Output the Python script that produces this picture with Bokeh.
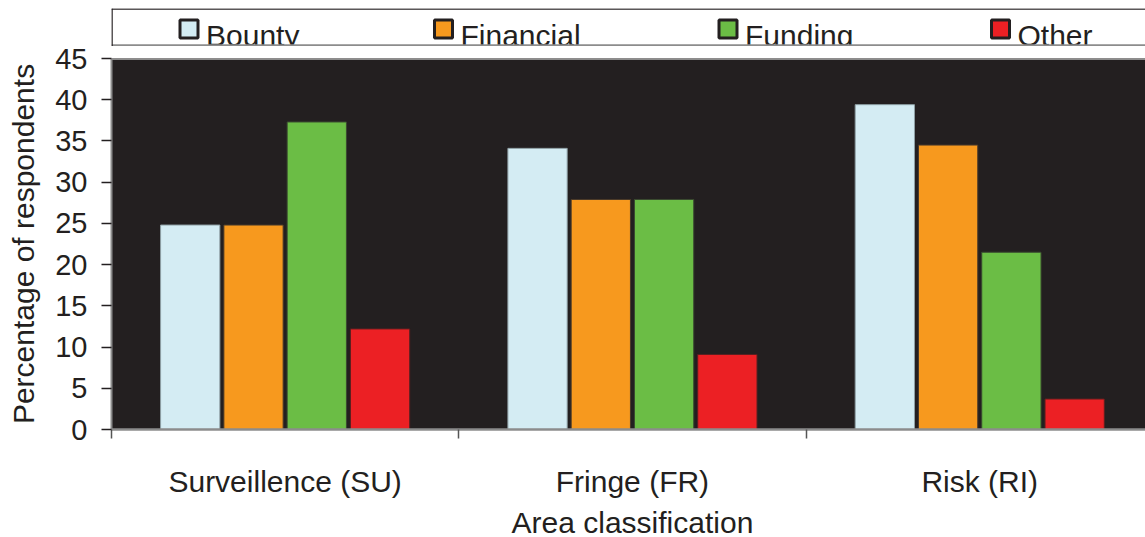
from bokeh.plotting import figure
from bokeh.layouts import column
from bokeh.models import Range1d, FixedTicker, Span, ColumnDataSource
from bokeh.core.properties import value
from bokeh.embed import file_html
from bokeh.resources import INLINE
import numpy as np

# ---- data ----
categories = ["Surveillence (SU)", "Fringe (FR)", "Risk (RI)"]
series_names = ["Bounty", "Financial", "Funding", "Other"]
bounty = [24.8, 34.1, 39.4]
financial = [24.8, 27.9, 34.5]
funding = [37.3, 27.9, 21.5]
other = [12.2, 9.1, 3.7]
y_ticks = [0, 5, 10, 15, 20, 25, 30, 35, 40, 45]
x_title = "Area classification"
y_title = "Percentage of respondents"

# ---- style / layout ----
FONT = "Liberation Sans"
INK = "#231f20"
fills = ["#d4ecf3", "#f7991e", "#6bbd45", "#ec2024"]
edges = ["#8fa0a5", "#4a3a2a", "#3a4a30", "#5a2020"]
BG = "#231f20"
W = 1145
LEFT = 111
CAT_PX = 347.3          # pixel width of one category slot
FRAME_W = W - LEFT
FRAME_H = 372
LEG_H = 46
MAIN_H = 454
TITLE_H = 537 - LEG_H - MAIN_H
TOP = 12
YMAX = 45
BASE_SHIFT = 11          # renderer places alphabetic baseline this much lower

series = [bounty, financial, funding, other]

# ---- main chart ----
ncat = len(categories)
x_end = FRAME_W / CAT_PX
p = figure(width=W, height=MAIN_H, output_backend="svg", toolbar_location=None,
           x_range=Range1d(0, x_end), y_range=Range1d(0, YMAX), title=None,
           min_border_left=LEFT, min_border_right=0, min_border_top=TOP,
           min_border_bottom=MAIN_H - TOP - FRAME_H)
p.background_fill_color = BG
p.border_fill_color = "white"
p.outline_line_color = None
p.grid.visible = False

pitch = 0.1822
bw = 0.1707
centers = np.arange(ncat) + 0.5
for i, (name, vals) in enumerate(zip(series_names, series)):
    xs = centers + (i - 1.5) * pitch
    src = ColumnDataSource(dict(x=xs, top=vals))
    p.vbar(x="x", top="top", width=bw, bottom=0, source=src,
           fill_color=fills[i], line_color=edges[i], line_width=1)

# y axis
p.yaxis.ticker = FixedTicker(ticks=y_ticks, minor_ticks=[])
p.yaxis.major_label_text_font = FONT
p.yaxis.major_label_text_font_size = "29px"
p.yaxis.major_label_text_color = INK
p.yaxis.major_tick_out = 10
p.yaxis.major_tick_in = 0
p.yaxis.major_tick_line_color = INK
p.yaxis.major_tick_line_width = 1.5
p.yaxis.major_label_standoff = 14
p.yaxis.axis_line_color = "#8c8c8c"
p.yaxis.axis_line_width = 2
p.yaxis.axis_label = y_title
p.yaxis.axis_label_text_font = FONT
p.yaxis.axis_label_text_font_size = "30px"
p.yaxis.axis_label_text_font_style = "normal"
p.yaxis.axis_label_text_color = INK
p.yaxis.axis_label_standoff = 12

# x axis
p.xaxis.ticker = FixedTicker(ticks=list(centers), minor_ticks=list(range(ncat + 1)))
p.xaxis.major_label_overrides = {float(c): cat for c, cat in zip(centers, categories)}
p.xaxis.major_tick_line_color = None
p.xaxis.major_tick_out = 0
p.xaxis.major_tick_in = 0
p.xaxis.minor_tick_out = 9
p.xaxis.minor_tick_in = 0
p.xaxis.minor_tick_line_color = "#555555"
p.xaxis.minor_tick_line_width = 1.5
p.xaxis.axis_line_color = "#8c8c8c"
p.xaxis.axis_line_width = 2.5
p.xaxis.major_label_text_font = FONT
p.xaxis.major_label_text_font_size = "30px"
p.xaxis.major_label_text_color = INK
p.xaxis.major_label_standoff = 26

p.add_layout(Span(location=YMAX, dimension="width", line_color="#8c8c8c", line_width=3))

# ---- x-axis title strip ----
tfig = figure(width=W, height=TITLE_H, output_backend="svg", toolbar_location=None,
              x_range=p.x_range, y_range=Range1d(TITLE_H, 0), title=None,
              min_border_left=LEFT, min_border_right=0, min_border_top=0,
              min_border_bottom=0, x_axis_type=None, y_axis_type=None)
tfig.outline_line_color = None
tfig.grid.visible = False
tfig.background_fill_color = "white"
tfig.border_fill_color = "white"
tfig.text(x=[ncat / 2], y=[TITLE_H - 4 - BASE_SHIFT], text=[x_title],
          text_font=value(FONT), text_font_size="30px", text_color=INK,
          text_baseline="alphabetic", text_align="center")

# ---- legend strip ----
LH = LEG_H - 8
leg = figure(width=W, height=LEG_H, output_backend="svg", toolbar_location=None,
             x_range=Range1d(LEFT, W), y_range=Range1d(LH, 0), title=None,
             min_border_left=LEFT, min_border_right=0, min_border_top=8,
             min_border_bottom=0, x_axis_type=None, y_axis_type=None)
leg.outline_line_color = None
leg.grid.visible = False
leg.background_fill_color = "white"
leg.border_fill_color = "white"

legend_x = [188.5, 443, 727.5, 1000]
leg.scatter(x=legend_x, y=[20.5] * 4, marker="square", size=18,
            fill_color=fills, line_color=INK, line_width=3)
leg.text(x=[lx + 17 for lx in legend_x], y=[LH - BASE_SHIFT] * 4, text=series_names,
         text_font=value(FONT), text_font_size="30px", text_color=INK,
         text_baseline="alphabetic", text_align="left")
leg.add_layout(Span(location=0.5, dimension="width", line_color=INK, line_width=1.5))
leg.add_layout(Span(location=LH - 1, dimension="width", line_color="#8c8c8c", line_width=2.5))
leg.add_layout(Span(location=LEFT + 0.5, dimension="height", line_color=INK, line_width=1.5))

layout = column(leg, p, tfig, spacing=0)
open("out.html", "w").write(file_html(layout, INLINE))
